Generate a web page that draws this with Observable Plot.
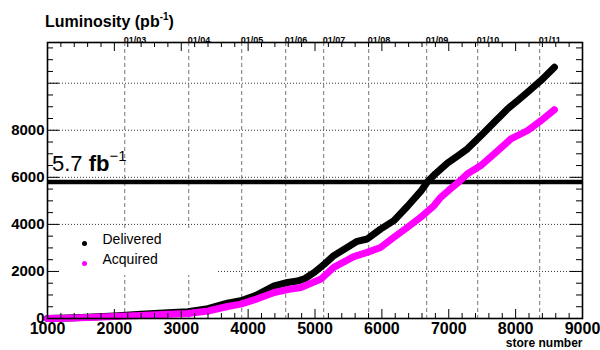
<!DOCTYPE html>
<html><head><meta charset="utf-8">
<script src="https://cdn.jsdelivr.net/npm/d3@7"></script>
<script src="https://cdn.jsdelivr.net/npm/@observablehq/plot@0.6"></script>
<style>
body{margin:0;background:#fff}
svg{font-family:"Liberation Sans",Arial,Helvetica,sans-serif}
</style>
</head><body><div id="chart"></div>
<script>
// ---- data ----
const deliveredStore = [1000,1300,1600,2000,2400,2800,3100,3400,3690,3890,4100,4390,4590,4740,4850,4990,5140,5280,5480,5630,5780,5980,6180,6380,6580,6680,6800,6980,7130,7280,7480,7680,7880,8030,8180,8380,8580];
const deliveredLum   = [0,20,50,110,180,240,290,420,655,755,960,1390,1530,1590,1700,1960,2310,2670,3020,3280,3380,3800,4160,4760,5400,5800,6150,6600,6900,7210,7770,8340,8910,9260,9620,10120,10680];
const acquiredStore  = [1000,1300,1600,2000,2400,2800,3100,3400,3690,3890,4100,4390,4590,4790,5090,5280,5580,5780,5980,6180,6380,6580,6780,6880,7000,7150,7280,7480,7680,7930,8180,8380,8580];
const acquiredLum    = [0,15,40,80,130,180,210,320,510,610,800,1105,1230,1320,1680,2170,2630,2810,3020,3450,3870,4300,4800,5150,5450,5800,6150,6500,7000,7630,7990,8410,8870];
const dateLabels = ["01/03","01/04","01/05","01/06","01/07","01/08","01/09","01/10","01/11"];
const dateStores = [2155,3112,3904,4562,5130,5803,6670,7433,8360];
const xTickLabels = [1000,2000,3000,4000,5000,6000,7000,8000,9000];
const yTickLabels = [0,2000,4000,6000,8000];
const yGridValues = [2000,4000,6000,8000,10000];
const lumiLine = 5800;

// ---- layout ----
const W = 600, H = 350, mL = 47, mR = 18, mT = 42, mB = 32;
const xDom = [1000, 9000], yDom = [0, 11730];
const yPerPx = (yDom[1]-yDom[0])/(H-mT-mB);
const xPerPx = (xDom[1]-xDom[0])/(W-mL-mR);

const delivered = deliveredStore.map((s,i)=>({store:s, lum:deliveredLum[i]}));
const acquired  = acquiredStore.map((s,i)=>({store:s, lum:acquiredLum[i]}));
const dates = dateStores.map((s,i)=>({store:s, label:dateLabels[i]}));

const xMinor = d3.range(1000, 9001, 200);
const yMinor = d3.range(0, yDom[1], 500);
const xLen = d => (d % 1000 === 0 ? 9 : 5);
const yLen = d => (d % 2000 === 0 ? 12 : 6);

function legendBox(){
  return d3.create("svg:rect").attr("x", mL+1).attr("y", 228).attr("width", 170).attr("height", 47).attr("fill","white").node();
}
function title(){
  const t = d3.create("svg:text").attr("x",45).attr("y",27).attr("font-size",16).attr("font-weight","bold").attr("fill","black").attr("text-anchor","start");
  t.append("tspan").text("Luminosity (pb");
  t.append("tspan").attr("dy",-7).attr("font-size",10).text("-1");
  t.append("tspan").attr("dy",7).text(")");
  return t.node();
}
function lumiText(){
  const t = d3.create("svg:text").attr("x",52).attr("y",171).attr("font-size",22).attr("fill","black").attr("text-anchor","start");
  t.append("tspan").text("5.7 ");
  t.append("tspan").attr("font-weight","bold").text("fb");
  t.append("tspan").attr("dy",-10).attr("font-size",15).text("\u22121");
  return t.node();
}

const plot = Plot.plot({
  width: W, height: H,
  marginLeft: mL, marginRight: mR, marginTop: mT, marginBottom: mB,
  style: {fontFamily: '"Liberation Sans",Arial,sans-serif', background: "white", overflow: "visible"},
  x: {domain: xDom},
  y: {domain: yDom},
  marks: [
    Plot.ruleX(dates, {x: "store", stroke: "#777", strokeDasharray: "4,3", strokeWidth: 1}),
    Plot.ruleY(yGridValues, {y: d=>d, stroke: "#333", strokeDasharray: "1,2", strokeWidth: 1}),
    legendBox,
    Plot.dot([0], {frameAnchor: "bottom-left", dx: 37, dy: -75, r: 2.5, fill: "black"}),
    Plot.dot([0], {frameAnchor: "bottom-left", dx: 37, dy: -55, r: 2.5, fill: "#ff00ff"}),
    Plot.text(["Delivered"], {frameAnchor: "bottom-left", dx: 55, dy: -75, text: d=>d, textAnchor: "start", fontSize: 14, fill: "black"}),
    Plot.text(["Acquired"], {frameAnchor: "bottom-left", dx: 55, dy: -55, text: d=>d, textAnchor: "start", fontSize: 14, fill: "black"}),
    Plot.ruleY([lumiLine], {y: d=>d, stroke: "black", strokeWidth: 4.5}),
    Plot.line(delivered, {x: "store", y: "lum", stroke: "black", strokeWidth: 7, strokeLinecap: "round", strokeLinejoin: "round"}),
    Plot.line(acquired, {x: "store", y: "lum", stroke: "#ff00ff", strokeWidth: 7, strokeLinecap: "round", strokeLinejoin: "round"}),
    // ticks
    Plot.ruleX(xMinor, {x: d=>d, y1: yDom[0], y2: d=>yDom[0]+xLen(d)*yPerPx, stroke: "black"}),
    Plot.ruleX(xMinor, {x: d=>d, y1: yDom[1], y2: d=>yDom[1]-xLen(d)*yPerPx, stroke: "black"}),
    Plot.ruleY(yMinor, {y: d=>d, x1: xDom[0], x2: d=>xDom[0]+yLen(d)*xPerPx, stroke: "black"}),
    Plot.ruleY(yMinor, {y: d=>d, x1: xDom[1], x2: d=>xDom[1]-yLen(d)*xPerPx, stroke: "black"}),
    Plot.frame({stroke: "black", strokeWidth: 1.6}),
    Plot.axisX(xTickLabels, {anchor: "bottom", tickSize: 0, tickPadding: 4, fontSize: 16, fontWeight: "bold", tickFormat: d=>String(d), label: null}),
    Plot.axisY(yTickLabels, {anchor: "left", tickSize: 0, tickPadding: 3, fontSize: 15, fontWeight: "bold", tickFormat: d=>String(d), label: null}),
    Plot.text(dates, {x: "store", text: "label", frameAnchor: "top", dy: -6, dx: -1, textAnchor: "start", fontSize: 9, fontWeight: "bold", fill: "black"}),
    Plot.text(["store number"], {frameAnchor: "bottom-right", dy: 28, dx: 0, text: d=>d, textAnchor: "end", fontSize: 12, fontWeight: "bold", fill: "black"}),
    title,
    lumiText
  ]
});
document.getElementById("chart").append(plot);
</script>
</body></html>
